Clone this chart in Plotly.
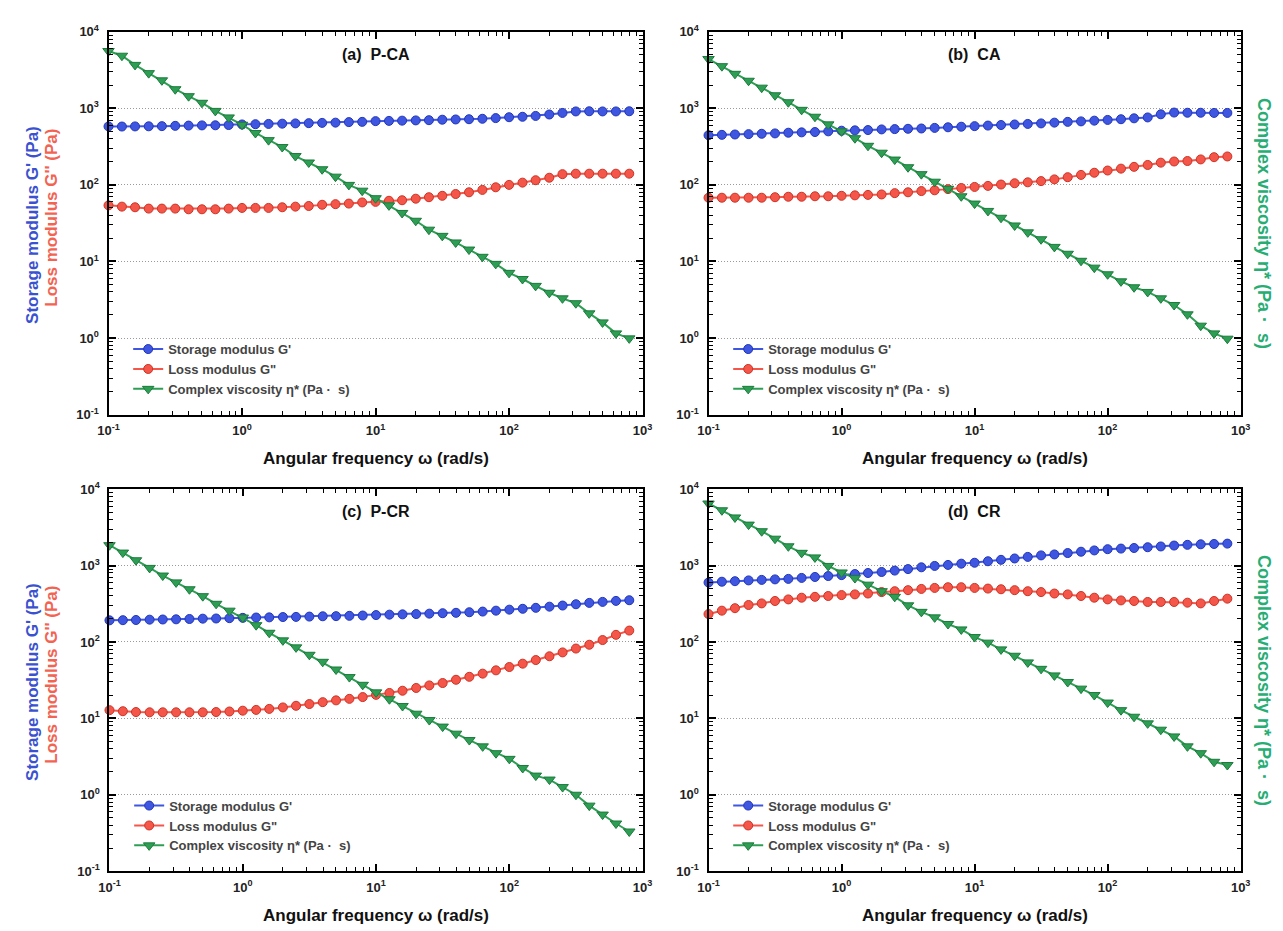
import plotly.graph_objects as go

# Angular frequency (rad/s) – measurement points
omega = [0.1, 0.126, 0.158, 0.2, 0.251, 0.316, 0.398, 0.501, 0.631, 0.794,
         1.0, 1.26, 1.58, 2.0, 2.51, 3.16, 3.98, 5.01, 6.31, 7.94,
         10.0, 12.6, 15.8, 20.0, 25.1, 31.6, 39.8, 50.1, 63.1, 79.4,
         100.0, 126.0, 158.0, 200.0, 251.0, 316.0, 398.0, 501.0, 631.0, 794.0]

# (a) P-CA
a_storage = [580, 578, 580, 582, 585, 590, 595, 598, 600, 605, 615, 620, 625, 630, 635, 640, 645, 650, 660, 665,
             680, 685, 690, 695, 700, 710, 715, 720, 730, 745, 765, 775, 795, 830, 870, 910, 915, 910, 910, 915]
a_loss = [54, 52, 51, 49, 49, 49, 48, 48, 48, 49, 50, 50, 50, 51, 52, 53, 55, 56, 57, 59,
          60, 62, 63, 66, 69, 72, 76, 80, 86, 93, 100, 107, 115, 124, 138, 140, 140, 140, 140, 140]
a_visc = [5600, 4860, 3690, 2880, 2320, 1775, 1440, 1180, 925, 760, 610, 476, 384, 312, 238, 196, 160, 128, 100, 84,
          67, 54, 43, 34, 26, 21.6, 17.7, 14.3, 11.5, 9.3, 7.1, 5.9, 4.8, 3.9, 3.3, 2.85, 2.1, 1.6, 1.15, 0.99]

# (b) CA
b_storage = [445, 450, 455, 460, 465, 470, 480, 485, 490, 500, 510, 515, 520, 530, 535, 540, 545, 555, 565, 575,
             585, 595, 605, 615, 625, 635, 650, 665, 675, 690, 705, 720, 740, 760, 835, 880, 875, 875, 870, 870]
b_loss = [68, 68, 68, 68, 68, 69, 70, 70, 71, 71, 72, 73, 74, 75, 78, 80, 83, 85, 88, 91,
          94, 97, 101, 105, 108, 112, 118, 126, 135, 144, 154, 163, 172, 182, 195, 202, 205, 215, 230, 235]
b_visc = [4400, 3550, 2820, 2290, 1860, 1480, 1200, 955, 776, 617, 500, 407, 324, 263, 214, 170, 138, 110, 89, 71,
          57, 45.7, 37.2, 29.5, 24, 19.5, 15.5, 12.6, 10.2, 8.3, 6.8, 5.5, 4.6, 4.0, 3.3, 2.7, 2.04, 1.45, 1.15, 0.98]

# (c) P-CR
c_storage = [192, 193, 194, 196, 197, 198, 200, 202, 203, 205, 207, 209, 210, 212, 213, 215, 217, 218, 220, 222,
             225, 228, 230, 232, 235, 238, 241, 245, 250, 257, 265, 272, 280, 290, 300, 312, 325, 335, 345, 352]
c_loss = [12.8, 12.4, 12.1, 12.0, 12.0, 12.0, 12.0, 12.0, 12.1, 12.3, 12.6, 12.9, 13.3, 13.9, 14.6, 15.4, 16.3, 17.2, 18.0, 19.0,
          20.3, 21.5, 23.0, 25.0, 27.0, 29.0, 32.0, 35.0, 38.5, 42.5, 47.0, 52.0, 58.0, 65.0, 73.0, 82.0, 92.0, 106, 124, 141]
c_visc = [1850, 1480, 1175, 933, 741, 603, 490, 398, 316, 257, 209, 166, 132, 105, 85, 68, 55, 43.6, 34.7, 27.5,
          21.9, 17.8, 14.5, 11.5, 9.5, 7.8, 6.3, 5.2, 4.3, 3.5, 2.95, 2.24, 1.78, 1.58, 1.26, 1.0, 0.72, 0.55, 0.42, 0.33]

# (d) CR
d_storage = [600, 615, 625, 640, 650, 660, 670, 690, 710, 730, 750, 775, 800, 825, 860, 900, 950, 990, 1020, 1060,
             1090, 1140, 1190, 1240, 1300, 1360, 1400, 1460, 1520, 1580, 1640, 1670, 1700, 1740, 1780, 1830, 1870, 1900, 1920, 1940]
d_loss = [232, 257, 277, 305, 320, 344, 361, 380, 390, 400, 411, 420, 431, 450, 462, 477, 495, 510, 521, 521,
          510, 500, 490, 477, 462, 450, 431, 420, 400, 380, 361, 350, 344, 334, 334, 334, 327, 320, 344, 369]
d_visc = [6500, 5300, 4270, 3440, 2820, 2250, 1790, 1470, 1280, 990, 813, 687, 563, 462, 390, 302, 248, 210, 172, 146,
          116, 98, 80, 66, 54, 44.5, 36.5, 29.9, 24.5, 20.2, 16.1, 12.8, 10.5, 8.6, 7.1, 5.8, 4.3, 3.5, 2.7, 2.45]

panel_titles = ["(a)\u00a0 P-CA", "(b)\u00a0 CA", "(c)\u00a0 P-CR", "(d)\u00a0 CR"]
series_names = ["Storage modulus G'", 'Loss modulus G"', "Complex viscosity \u03b7* (Pa \u00b7  s)"]
x_tick_vals = [0.1, 1, 10, 100, 1000]
x_tick_text = ["10<sup>-1</sup>", "10<sup>0</sup>", "10<sup>1</sup>", "10<sup>2</sup>", "10<sup>3</sup>"]
y_tick_vals = [0.1, 1, 10, 100, 1000, 10000]
y_tick_text = ["10<sup>-1</sup>", "10<sup>0</sup>", "10<sup>1</sup>", "10<sup>2</sup>", "10<sup>3</sup>", "10<sup>4</sup>"]
x_title = "Angular frequency \u03c9 (rad/s)"
left_title_1 = "Storage modulus G' (Pa)"
left_title_2 = "Loss modulus G'' (Pa)"
right_title = "Complex viscosity \u03b7* (Pa \u00b7  s)"

panels = [
    (a_storage, a_loss, a_visc),
    (b_storage, b_loss, b_visc),
    (c_storage, c_loss, c_visc),
    (d_storage, d_loss, d_visc),
]

W, H = 1283, 931
FONT = "Arial, 'Liberation Sans', sans-serif"

# plot-area boxes in pixels (left, right, top, bottom)
boxes = [(91, 634, 15, 405), (701, 1242, 15, 405), (92, 634, 481, 870), (701, 1242, 481, 870)]

BLUE, BLUE_E = "#3f56e0", "#2236b8"
RED, RED_E = "#f4574a", "#cc3326"
GREEN, GREEN_E = "#2e9e55", "#1c7a3c"
TEAL = "#27ad74"

def minor_vals(lo, hi):
    out = []
    for e in range(lo, hi):
        for m in range(2, 10):
            out.append(m * 10 ** e)
    return out

fig = go.Figure()
layout = dict(width=W, height=H, margin=dict(l=0, r=0, t=0, b=0),
              paper_bgcolor="white", plot_bgcolor="white",
              font=dict(family=FONT, color="#222"), showlegend=True)
annotations = []

for i, (gs, gl, gv) in enumerate(panels):
    n = i + 1
    xa = "x" if n == 1 else f"x{n}"
    ya = "y" if n == 1 else f"y{n}"
    lg = "legend" if n == 1 else f"legend{n}"
    common = dict(x=omega, xaxis=xa, yaxis=ya, legend=lg, mode="lines+markers", cliponaxis=False)
    fig.add_trace(go.Scatter(y=gs, name=series_names[0], line=dict(color=BLUE, width=2),
                             marker=dict(symbol="circle", size=9, color=BLUE, line=dict(color=BLUE_E, width=1)), **common))
    fig.add_trace(go.Scatter(y=gl, name=series_names[1], line=dict(color=RED, width=2),
                             marker=dict(symbol="circle", size=9, color=RED, line=dict(color=RED_E, width=1)), **common))
    fig.add_trace(go.Scatter(y=gv, name=series_names[2], line=dict(color=GREEN, width=2),
                             marker=dict(symbol="triangle-down", size=10, color=GREEN, line=dict(color=GREEN_E, width=1)), **common))

    l, r, t, b = boxes[i]
    xdom = [l / W, r / W]
    ydom = [1 - b / H, 1 - t / H]
    axis_common = dict(type="log", showline=True, linewidth=2, linecolor="black", mirror="allticks",
                       ticks="inside", ticklen=7, tickwidth=1.5, tickcolor="black", zeroline=False,
                       tickfont=dict(family=FONT, size=13, color="#222", weight="bold"))
    layout["xaxis" if n == 1 else f"xaxis{n}"] = dict(
        domain=xdom, anchor=ya, range=[-1, 3], tickmode="array", tickvals=x_tick_vals, ticktext=x_tick_text,
        showgrid=False, ticklabelstandoff=3,
        minor=dict(tickmode="array", tickvals=minor_vals(-1, 3), ticks="inside", ticklen=4,
                   tickwidth=1, tickcolor="black", showgrid=False),
        **axis_common)
    layout["yaxis" if n == 1 else f"yaxis{n}"] = dict(
        domain=ydom, anchor=xa, range=[-1, 4], tickmode="array", tickvals=y_tick_vals, ticktext=y_tick_text,
        showgrid=True, gridcolor="#9a9a9a", gridwidth=1, griddash="1px,2px", ticklabelstandoff=5,
        minor=dict(tickmode="array", tickvals=minor_vals(-1, 4), ticks="inside", ticklen=4,
                   tickwidth=1, tickcolor="black", showgrid=False),
        **axis_common)
    layout[lg] = dict(x=(l + 20) / W, y=1 - (b - 82) / H, xanchor="left", yanchor="top",
                      bgcolor="rgba(0,0,0,0)", itemwidth=30, tracegroupgap=0,
                      font=dict(family=FONT, size=13, color="#444", weight="bold"))

    cx = (l + r) / 2
    annotations.append(dict(text=f"<b>{panel_titles[i]}</b>", x=cx / W, y=1 - (t + 23) / H, xref="paper", yref="paper",
                            showarrow=False, font=dict(family=FONT, size=16, color="#111"), xanchor="center", yanchor="middle"))
    annotations.append(dict(text=f"<b>{x_title}</b>", x=cx / W, y=1 - (b + 45) / H, xref="paper", yref="paper",
                            showarrow=False, font=dict(family=FONT, size=17, color="#111"), xanchor="center", yanchor="middle"))
    cy = (t + b) / 2
    if n in (1, 3):
        annotations.append(dict(text=f"<b>{left_title_1}</b>", x=13 / W, y=1 - (cy + 2) / H, xref="paper", yref="paper",
                                showarrow=False, textangle=-90, font=dict(family=FONT, size=17, color="#3a52d0"),
                                xanchor="center", yanchor="middle"))
        annotations.append(dict(text=f"<b>{left_title_2}</b>", x=33 / W, y=1 - (cy - 6) / H, xref="paper", yref="paper",
                                showarrow=False, textangle=-90, font=dict(family=FONT, size=17, color="#f26352"),
                                xanchor="center", yanchor="middle"))
    else:
        annotations.append(dict(text=f"<b>{right_title}</b>", x=1266 / W, y=1 - (cy) / H, xref="paper", yref="paper",
                                showarrow=False, textangle=90, font=dict(family=FONT, size=18, color=TEAL),
                                xanchor="center", yanchor="middle"))

layout["annotations"] = annotations
fig.update_layout(**layout)
fig.write_html("out.html")
